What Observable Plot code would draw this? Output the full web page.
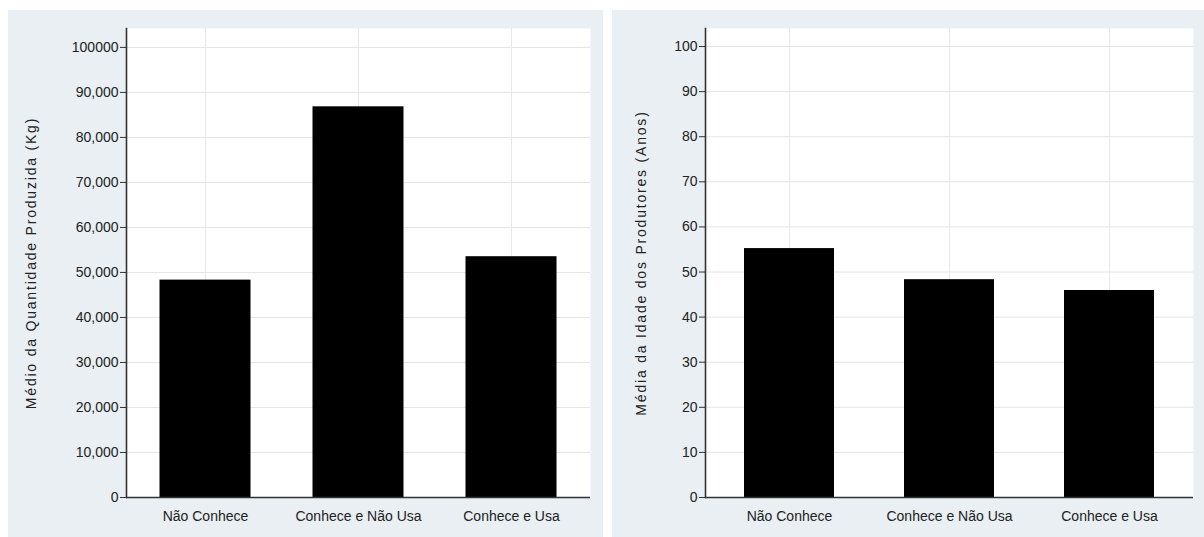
<!DOCTYPE html>
<html>
<head>
<meta charset="utf-8">
<script src="https://cdn.jsdelivr.net/npm/d3@7"></script>
<script src="https://cdn.jsdelivr.net/npm/@observablehq/plot@0.6"></script>
<style>
  html, body { margin: 0; padding: 0; background: #ffffff; }
  #wrap { position: relative; width: 1204px; height: 537px; overflow: hidden; }
  .panel { position: absolute; top: 10px; height: 527px; background: #e9eff2; }
  #p1 { left: 8px; width: 595px; }
  #p2 { left: 612px; width: 592px; }
  .panel svg { display: block; }
  .panel [aria-label="y-axis label"] text { letter-spacing: 1.8px; }
</style>
</head>
<body>
<div id="wrap">
  <div class="panel" id="p1"></div>
  <div class="panel" id="p2"></div>
</div>
<script>
// ---- data ----
const categories = ["Não Conhece", "Conhece e Não Usa", "Conhece e Usa"];
const quantidadeValues = [48300, 86800, 53500];
const idadeValues = [55.2, 48.3, 45.9];

const quantidadeTicks = [0, 10000, 20000, 30000, 40000, 50000, 60000, 70000, 80000, 90000, 100000];
const quantidadeTickLabels = ["0", "10,000", "20,000", "30,000", "40,000", "50,000", "60,000", "70,000", "80,000", "90,000", "100000"];
const idadeTicks = [0, 10, 20, 30, 40, 50, 60, 70, 80, 90, 100];
const idadeTickLabels = ["0", "10", "20", "30", "40", "50", "60", "70", "80", "90", "100"];

const quantidadeTitle = "Médio da Quantidade Produzida (Kg)";
const idadeTitle = "Média da Idade dos Produtores (Anos)";

function makeChart(opts) {
  const data = categories.map((c, i) => ({cat: c, val: opts.values[i]}));
  const labelMap = new Map(opts.ticks.map((t, i) => [t, opts.labels[i]]));
  return Plot.plot({
    width: opts.width,
    height: 527,
    marginLeft: opts.marginLeft,
    marginRight: opts.marginRight,
    marginTop: 18,
    marginBottom: 40,
    style: {background: "transparent", fontFamily: "'Liberation Sans', Arial, sans-serif", fontSize: "14px", color: "#222"},
    x: {type: "band", domain: categories, padding: opts.padding, label: null},
    y: {domain: [0, opts.yMax], label: null},
    marks: [
      Plot.frame({fill: "white", stroke: null}),
      Plot.gridY(opts.ticks, {stroke: "#e4e4e4", strokeOpacity: 1}),
      Plot.gridX({stroke: "#e8e8e8", strokeOpacity: 1}),
      Plot.barY(data, {x: "cat", y: "val", fill: "black", insetLeft: opts.inset, insetRight: opts.inset}),
      Plot.axisY(opts.ticks, {
        tickFormat: d => labelMap.get(d),
        tickSize: 6,
        tickPadding: 2,
        stroke: "#333",
        fill: "#222",
        fontSize: 14,
        label: opts.title,
        labelAnchor: "center",
        labelArrow: "none",
        labelOffset: opts.labelOffset
      }),
      Plot.axisX({tickSize: 0, tickPadding: 14, fill: "#222", fontSize: 14, label: null}),
      Plot.ruleY([0], {stroke: "#333", strokeWidth: 1.6}),
      Plot.frame({anchor: "left", stroke: "#333", strokeWidth: 1.6})
    ]
  });
}

document.getElementById("p1").append(makeChart({
  width: 595, marginLeft: 118, marginRight: 13, padding: 0.02, inset: 29.5,
  values: quantidadeValues, ticks: quantidadeTicks, labels: quantidadeTickLabels,
  yMax: 104200, title: quantidadeTitle, labelOffset: 100
}));
document.getElementById("p2").append(makeChart({
  width: 592, marginLeft: 93, marginRight: 11, padding: 0.04, inset: 32,
  values: idadeValues, ticks: idadeTicks, labels: idadeTickLabels,
  yMax: 104.0, title: idadeTitle, labelOffset: 69
}));
</script>
</body>
</html>
